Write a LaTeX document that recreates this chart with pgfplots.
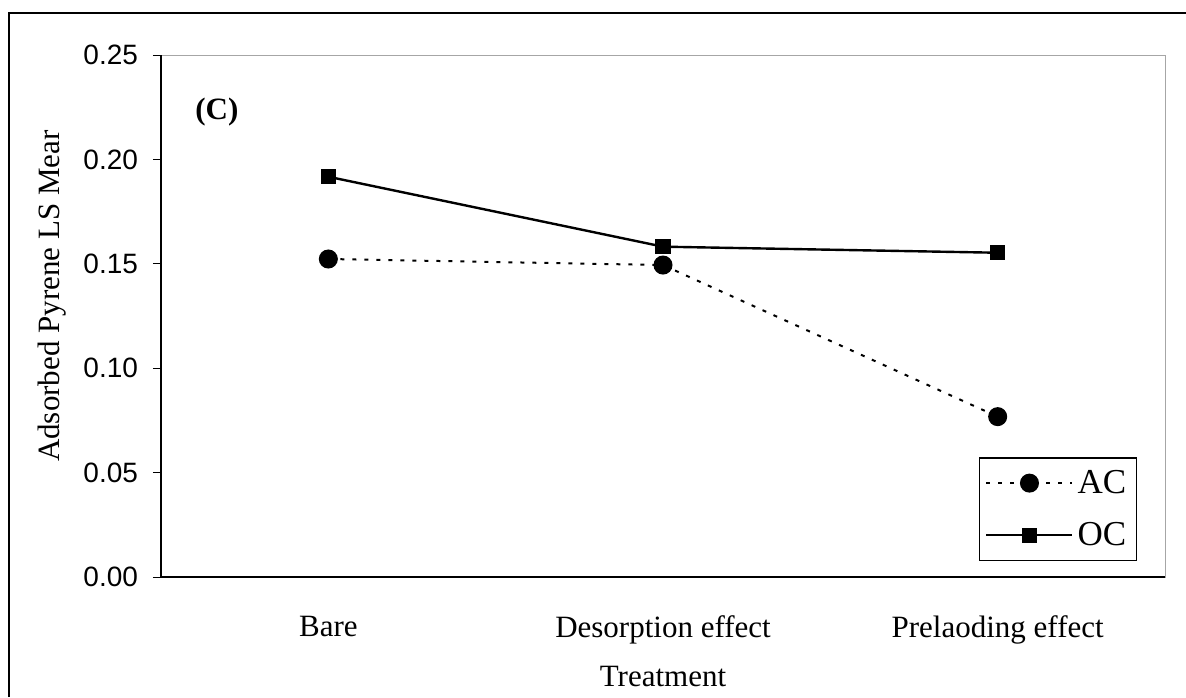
\documentclass[border=0pt]{standalone}
\usepackage{fontspec}
\setmainfont{Liberation Serif}
\newfontfamily\arial{Liberation Sans}
\usepackage{pgfplots}
\pgfplotsset{compat=1.18}

\begin{document}
\begin{tikzpicture}
\path[use as bounding box] (0,0) rectangle (593pt,348.5pt);
% outer frame (left and top only, as in the scan)
\draw[line width=1pt] (4.5pt,0) -- (4.5pt,342pt) -- (593pt,342pt);
\begin{axis}[
    at={(80.5pt,60pt)}, anchor=south west,
    scale only axis, width=502pt, height=261pt,
    xmin=0, xmax=3, ymin=0, ymax=0.25,
    axis line style={gray!70, line width=0.5pt},
    xtick={0.5,1.5,2.5},
    xticklabels={Bare, Desorption effect, Prelaoding effect},
    major x tick style={draw=none},
    extra x ticks={0,1,2,3},
    extra x tick labels={},
    extra x tick style={tick align=outside, major tick length=5pt, tick style={black, line width=0.5pt}},
    xticklabel style={font=\fontsize{15.5}{17}\selectfont, yshift=-12pt},
    ytick={0,0.05,0.10,0.15,0.20,0.25},
    yticklabel style={font=\arial\fontsize{14}{16}\selectfont, xshift=-4pt,
        /pgf/number format/.cd, fixed, zerofill, precision=2, assume math mode=true},
    y tick style={black, line width=0.5pt},
    tick align=outside, major tick length=4pt,
    xtick pos=bottom, ytick pos=left,
    xlabel={Treatment},
    xlabel style={font=\fontsize{15.5}{17}\selectfont, at={(axis description cs:0.5,0)}, anchor=center, yshift=-49.5pt},
    ylabel={Adsorbed Pyrene LS Mear},
    ylabel style={font=\fontsize{15.5}{17}\selectfont, at={(axis description cs:-0.108,0.538)}, anchor=center},
    clip=false,
    legend style={at={(0.972,0.0307)}, anchor=south east, draw=black, line width=0.6pt,
        font=\fontsize{17.5}{19}\selectfont, row sep=9pt, inner xsep=3pt, inner ysep=4pt,
        cells={anchor=west}},
    legend image code/.code={\draw[mark repeat=2, mark phase=2] plot coordinates {(0pt,0pt) (21.5pt,0pt) (43pt,0pt)};},
]
\draw[black, line width=0.8pt] (rel axis cs:0,0) -- (rel axis cs:0,1);
\draw[black, line width=0.8pt] (rel axis cs:0,0) -- (rel axis cs:1,0);
\addplot[black, line width=1pt, dash pattern=on 2pt off 4pt, mark=*, mark size=4.25pt,
    mark options={solid}] coordinates {(0.5,0.1523) (1.5,0.1494) (2.5,0.0768)};
\addlegendentry{AC}
\addplot[black, line width=1.2pt, mark=square*, mark size=3.25pt,
    mark options={solid}] coordinates {(0.5,0.1917) (1.5,0.1582) (2.5,0.1553)};
\addlegendentry{OC}
\node[font=\bfseries\fontsize{15.5}{17}\selectfont] at (axis cs:0.167,0.2227) {(C)};
\end{axis}
\end{tikzpicture}
\end{document}
